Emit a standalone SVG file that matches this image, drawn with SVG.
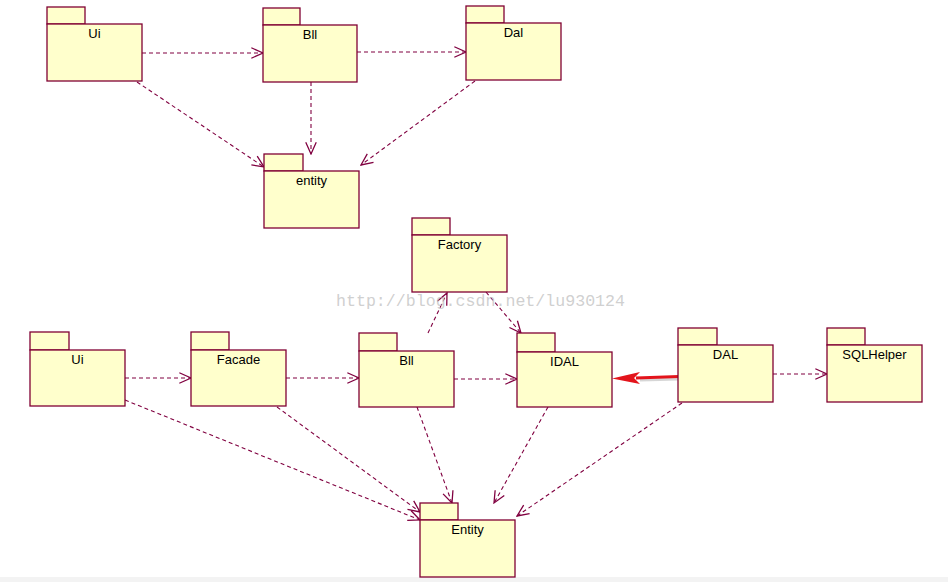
<svg xmlns="http://www.w3.org/2000/svg" width="948" height="582" viewBox="0 0 948 582">
<style>
.pkg rect{fill:#FFFFCC;stroke:#800033;stroke-width:1.3}
.pkg text{font-family:"Liberation Sans",Arial,sans-serif;font-size:13px;fill:#000;text-anchor:middle}
.dep{fill:none;stroke:#800040;stroke-width:1.1;stroke-dasharray:4 3;marker-end:url(#open)}
.wm{font-family:"Liberation Mono","Courier New",monospace;font-size:16.6px;fill:#c4c4c4;fill-opacity:0.8}
</style>
<defs>
<marker id="open" markerUnits="userSpaceOnUse" markerWidth="14" markerHeight="14" viewBox="0 0 12 12" refX="11" refY="6" orient="auto">
<path d="M1,1.5 L11,6 L1,10.5" fill="none" stroke="#800040" stroke-width="1.1"/>
</marker>
</defs>
<rect x="0" y="577" width="948" height="5" fill="#f3f3f3"/>
<g id="connectors">
<path class="dep" d="M142,53 L263,53"/>
<path class="dep" d="M357,52 L466,52"/>
<path class="dep" d="M137,82 L264,167"/>
<path class="dep" d="M311,82 L311,154"/>
<path class="dep" d="M475,81 L361,165"/>
<path class="dep" d="M125,378 L191,378"/>
<path class="dep" d="M286,378 L359,378"/>
<path class="dep" d="M454,379 L517,379"/>
<path class="dep" d="M773,374 L827,374"/>
<path class="dep" d="M428,333 L447,293"/>
<path class="dep" d="M486,292 L521,333"/>
<path class="dep" d="M125,400 L420,520"/>
<path class="dep" d="M277,407 L420,512"/>
<path class="dep" d="M417,407 L452,503"/>
<path class="dep" d="M548,407 L494,503"/>
<path class="dep" d="M682,403 L517,516"/>
<g id="red-arrow">
<path d="M679,379 L640,380" stroke="#bbbbbb" stroke-width="3" fill="none" opacity="0.6"/>
<path d="M679,376.5 L636,378" stroke="#e3141b" stroke-width="3" fill="none"/>
<path d="M612,378.5 L640,372 L634,378 L640,384 Z" fill="#e3141b"/>
</g>
</g>
<g id="top-ui" class="pkg"><rect x="47" y="7" width="38" height="17"/><rect x="47" y="24" width="95" height="57"/><text x="94.5" y="38">Ui</text></g>
<g id="top-bll" class="pkg"><rect x="263" y="8" width="37" height="17"/><rect x="263" y="25" width="94" height="57"/><text x="310" y="39">Bll</text></g>
<g id="top-dal" class="pkg"><rect x="466" y="6" width="38" height="17"/><rect x="466" y="23" width="95" height="57"/><text x="513.5" y="37">Dal</text></g>
<g id="top-entity" class="pkg"><rect x="264" y="154" width="39" height="17"/><rect x="264" y="171" width="95" height="57"/><text x="311.5" y="185">entity</text></g>
<g id="factory" class="pkg"><rect x="412" y="218" width="38" height="17"/><rect x="412" y="235" width="95" height="57"/><text x="459.5" y="249">Factory</text></g>
<g id="ui" class="pkg"><rect x="30" y="332" width="39" height="18"/><rect x="30" y="350" width="95" height="56"/><text x="77.5" y="364">Ui</text></g>
<g id="facade" class="pkg"><rect x="191" y="332" width="38" height="18"/><rect x="191" y="350" width="95" height="56"/><text x="238.5" y="364">Facade</text></g>
<g id="bll" class="pkg"><rect x="359" y="333" width="38" height="18"/><rect x="359" y="351" width="95" height="56"/><text x="406.5" y="365">Bll</text></g>
<g id="idal" class="pkg"><rect x="517" y="333" width="38" height="19"/><rect x="517" y="352" width="95" height="55"/><text x="564.5" y="366">IDAL</text></g>
<g id="dal" class="pkg"><rect x="678" y="328" width="39" height="17"/><rect x="678" y="345" width="95" height="57"/><text x="725.5" y="359">DAL</text></g>
<g id="sqlhelper" class="pkg"><rect x="827" y="328" width="38" height="17"/><rect x="827" y="345" width="95" height="57"/><text x="874.5" y="359">SQLHelper</text></g>
<g id="entity" class="pkg"><rect x="420" y="503" width="38" height="17"/><rect x="420" y="520" width="95" height="57"/><text x="467.5" y="534">Entity</text></g>
<text class="wm" x="336" y="306" textLength="289">http://blog.csdn.net/lu930124</text>
</svg>
